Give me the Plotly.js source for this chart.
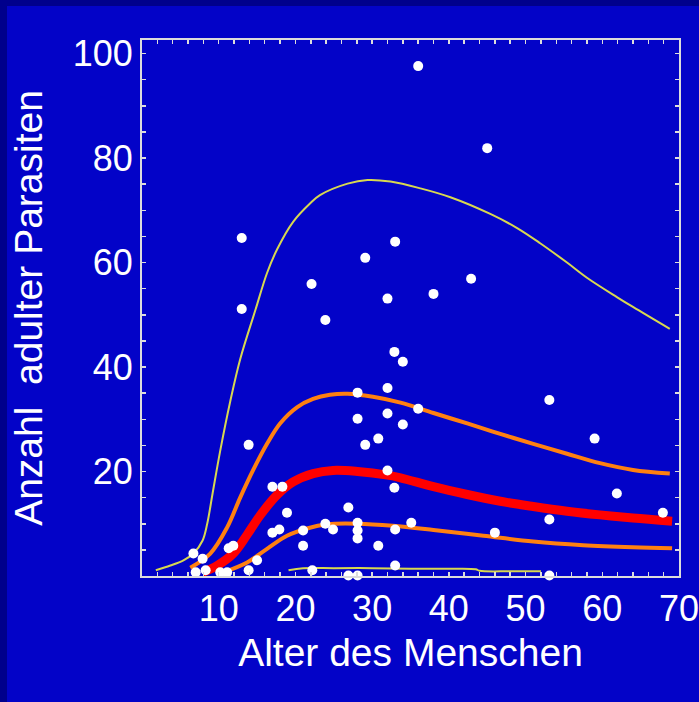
<!DOCTYPE html>
<html><head><meta charset="utf-8">
<script src="https://cdn.plot.ly/plotly-3.0.1.min.js"></script>
<style>
html,body{margin:0;padding:0;background:#0303c8;width:699px;height:702px;overflow:hidden}
#chart{position:absolute;left:0;top:0;width:699px;height:702px}
.strip{position:absolute;background:#00008c;z-index:5}
#stripTop{left:0;top:0;width:699px;height:6px}
#stripLeft{left:0;top:0;width:7px;height:702px}
</style></head><body><div id="chart"></div><div class="strip" id="stripTop"></div><div class="strip" id="stripLeft"></div>
<script>
// observed worm counts per host age
const obsAge = [36.0,45.0,13.0,33.0,29.1,22.1,42.9,32.0,38.0,13.0,23.9,32.9,34.0,32.0,28.1,28.1,32.0,34.0,29.1,30.8,13.9,32.0,32.9,17.0,18.3,26.9,18.9,17.0,17.9,21.0,23.9,24.9,28.1,28.1,28.1,30.8,21.0,35.1,33.0,6.7,7.9,11.3,11.9,15.0,13.9,7.0,8.3,10.2,11.1,22.2,26.9,28.1,33.0,53.1,36.0,59.0,61.9,67.9,53.1,46.0,53.1];
const obsParasites = [97.6,81.9,64.7,64.0,60.9,55.9,56.9,53.1,54.0,51.1,49.0,42.9,41.0,36.0,35.1,30.1,31.1,29.0,25.1,26.3,25.1,20.2,16.9,17.1,17.1,13.1,12.1,8.3,8.9,8.7,10.0,8.9,10.2,8.7,7.2,5.8,5.8,10.2,8.9,4.3,3.3,5.3,5.8,3.0,1.1,0.7,1.1,0.7,0.7,1.1,0.1,0.1,2.0,33.7,32.0,26.3,15.8,12.1,10.8,8.3,0.1];

// upper outer band (thin yellow)
const upperOuterAge = [1.8,3.7,5.4,6.7,7.9,8.5,9.2,10.2,11.5,12.8,14.8,16.3,17.6,19.7,21.9,23.2,26.8,29.4,32.4,36.3,40.2,45.4,48.9,51.9,55.4,58.0,61.9,64.0,68.8];
const upperOuterVal = [1.1,2.0,3.0,4.3,6.8,10.0,15.8,24.0,33.4,41.5,51.0,58.0,62.5,67.8,71.3,72.9,75.1,75.8,75.5,74.2,72.5,69.3,66.6,63.7,60.0,57.1,53.4,51.5,47.3];

// upper inner band (orange)
const upperInnerAge = [6.3,8.9,11.1,12.8,14.5,16.3,18.0,20.2,22.3,24.5,26.8,30.1,33.7,38.0,42.4,46.7,51.0,55.4,59.7,64.0,68.8];
const upperInnerVal = [1.6,4.3,9.3,15.0,20.3,25.3,29.2,32.3,33.9,34.7,34.9,34.3,33.2,31.2,29.2,27.2,25.3,23.4,21.6,20.3,19.6];

// mean (thick red)
const meanAge = [7.9,9.8,11.9,13.7,15.4,17.6,19.7,22.3,24.9,28.1,32.0,33.7,38.0,42.4,46.7,51.0,55.4,59.7,64.0,69.1];
const meanVal = [0.7,2.0,4.3,7.9,11.6,15.5,18.0,19.6,20.2,20.0,19.3,18.8,17.1,15.6,14.3,13.3,12.4,11.7,11.1,10.5];

// lower inner band (orange)
const lowerInnerAge = [10.6,13.7,16.3,18.9,21.5,24.2,28.1,32.7,38.0,44.5,51.0,57.5,64.0,69.1];
const lowerInnerVal = [0.7,2.6,5.2,7.7,9.1,9.9,10.0,9.6,8.8,7.7,6.6,5.9,5.5,5.3];

// lower outer band (thin yellow)
const lowerOuterAge = [19.1,21.0,25.0,30.0,35.0,40.0,43.5,44.0,48.0,52.0];
const lowerOuterVal = [1.1,1.5,1.5,1.5,1.4,1.4,1.3,1.0,0.9,0.9];

const xTickVals = [10,20,30,40,50,60,70];
const xTickText = ['10','20','30','40','50','60','70'];
const yTickVals = [20,40,60,80,100];
const yTickText = ['20','40','60','80','100'];

const FONT = 'Liberation Sans, Arial, Helvetica, sans-serif';
const FRAME = '#dcdcdc';

function curve(x, y, color, width) {
  return {x: x, y: y, type: 'scatter', mode: 'lines',
    line: {color: color, width: width, shape: 'spline', smoothing: 1},
    hoverinfo: 'skip', showlegend: false};
}

const traces = [
  curve(upperOuterAge, upperOuterVal, '#d8d850', 2),
  curve(lowerOuterAge, lowerOuterVal, '#d8d850', 2),
  curve(upperInnerAge, upperInnerVal, '#ff8010', 4),
  curve(lowerInnerAge, lowerInnerVal, '#ff8010', 4),
  curve(meanAge, meanVal, '#ff0000', 9),
  {x: obsAge, y: obsParasites, type: 'scatter', mode: 'markers',
   marker: {color: '#ffffff', size: 10}, showlegend: false, cliponaxis: false}
];

const axisCommon = {
  showgrid: false, zeroline: false, showline: true, linecolor: FRAME, linewidth: 2,
  mirror: 'ticks', ticks: 'inside', ticklen: 4, tickwidth: 1.5, tickcolor: FRAME,
  ticklabeloverflow: 'allow',
  tickfont: {family: FONT, size: 36, color: '#ffffff'}
};

const layout = {
  width: 699, height: 702,
  margin: {l: 142, r: 20, t: 40, b: 126},
  paper_bgcolor: '#0303c8', plot_bgcolor: '#0303c8',
  showlegend: false,
  xaxis: Object.assign({}, axisCommon, {
    range: [0, 70], tickmode: 'array', tickvals: xTickVals, ticktext: xTickText,
    minor: {tickmode: 'linear', tick0: 0, dtick: 2, ticks: 'inside', ticklen: 4, tickwidth: 1.5, tickcolor: FRAME},
    title: {text: 'Alter des Menschen', font: {family: FONT, size: 39, color: '#ffffff'}, standoff: 10}
  }),
  yaxis: Object.assign({}, axisCommon, {
    range: [0, 102.6], tickmode: 'array', tickvals: yTickVals, ticktext: yTickText,
    minor: {tickmode: 'linear', tick0: 0, dtick: 5, ticks: 'inside', ticklen: 4, tickwidth: 1.5, tickcolor: FRAME},
    title: {text: 'Anzahl  adulter Parasiten', font: {family: FONT, size: 39, color: '#ffffff'}, standoff: 18}
  })
};

Plotly.newPlot('chart', traces, layout, {staticPlot: true, displayModeBar: false});
</script></body></html>
